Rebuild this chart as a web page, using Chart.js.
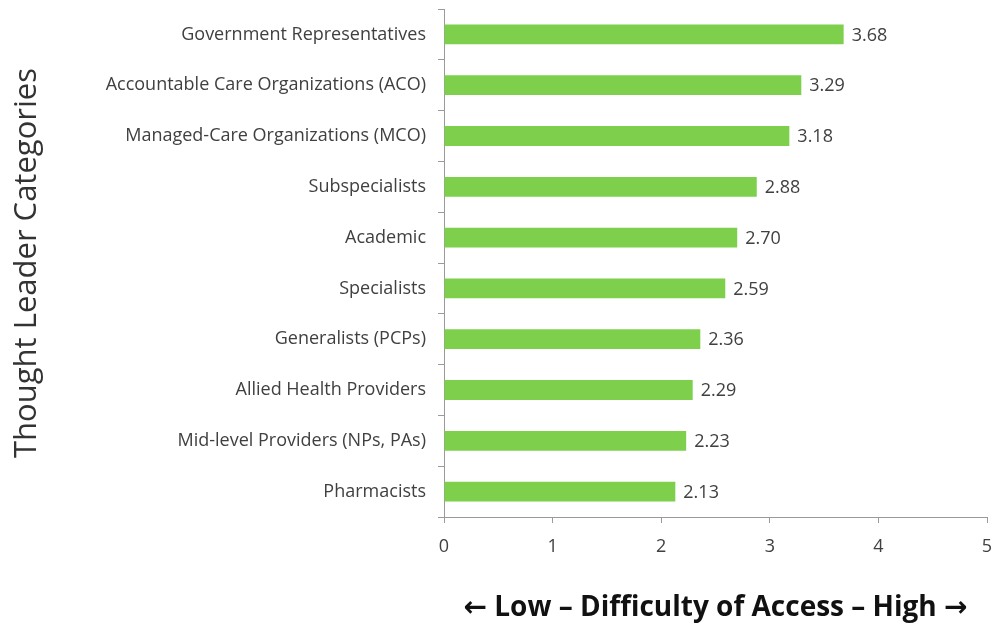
<!DOCTYPE html>
<html>
<head>
    <meta charset="utf-8"/>
    <title>Difficulty of Access</title>
    <script src="https://cdn.jsdelivr.net/npm/chart.js@4.4.1/dist/chart.umd.min.js"></script>
    <style>
        html, body { margin: 0; padding: 0; background: #fff; }
        #wrap { width: 993px; height: 629px; position: relative; }
    </style>
</head>
<body>
<div id="wrap">
    <canvas id="accessChart"></canvas>
</div>
<script>
    const categories = [
        'Government Representatives',
        'Accountable Care Organizations (ACO)',
        'Managed-Care Organizations (MCO)',
        'Subspecialists',
        'Academic',
        'Specialists',
        'Generalists (PCPs)',
        'Allied Health Providers',
        'Mid-level Providers (NPs, PAs)',
        'Pharmacists'
    ];
    const scores = [3.68, 3.29, 3.18, 2.88, 2.70, 2.59, 2.36, 2.29, 2.23, 2.13];
    const xTicks = [0, 1, 2, 3, 4, 5];

    const FONT = "'Open Sans', 'DejaVu Sans', sans-serif";

    // draws the value next to the end of each bar
    const valueLabels = {
        id: 'valueLabels',
        afterDatasetsDraw(chart) {
            const ctx = chart.ctx;
            const meta = chart.getDatasetMeta(0);
            ctx.save();
            ctx.font = '18px ' + FONT;
            ctx.fillStyle = '#404040';
            ctx.textAlign = 'left';
            ctx.textBaseline = 'middle';
            meta.data.forEach(function (bar, i) {
                ctx.fillText(scores[i].toFixed(2), bar.x + 8, bar.y + 1);
            });
            ctx.restore();
        }
    };

    new Chart(document.getElementById('accessChart'), {
        type: 'bar',
        data: {
            labels: categories,
            datasets: [{
                data: scores,
                backgroundColor: 'rgb(126, 208, 76)',
                borderWidth: 0,
                barPercentage: 0.39,
                categoryPercentage: 1.0
            }]
        },
        options: {
            indexAxis: 'y',
            responsive: true,
            maintainAspectRatio: false,
            animation: false,
            layout: { padding: { top: 9, right: 6, bottom: 0, left: 0 } },
            plugins: {
                legend: { display: false },
                tooltip: { enabled: false }
            },
            scales: {
                x: {
                    min: 0,
                    max: 5,
                    afterBuildTicks(scale) {
                        scale.ticks = xTicks.map(v => ({ value: v }));
                    },
                    afterFit(scale) {
                        scale.height = 112;
                        scale.paddingLeft = 0;
                        scale.paddingRight = 0;
                    },
                    grid: {
                        drawOnChartArea: false,
                        drawTicks: true,
                        tickLength: 6,
                        color: '#9a9a9a'
                    },
                    border: { color: '#9a9a9a', width: 1 },
                    ticks: {
                        color: '#404040',
                        padding: 13,
                        font: { family: FONT, size: 18 }
                    },
                    title: {
                        display: true,
                        text: '\u2190 Low \u2013 Difficulty of Access \u2013 High \u2192',
                        color: '#111',
                        font: { family: FONT, size: 28, weight: 'bold' },
                        padding: { top: 0, bottom: 4 }
                    }
                },
                y: {
                    afterFit(scale) {
                        scale.width = 444;
                        scale.paddingTop = 0;
                        scale.paddingBottom = 0;
                    },
                    grid: {
                        drawOnChartArea: false,
                        drawTicks: true,
                        tickLength: 6,
                        offset: true,
                        color: '#9a9a9a'
                    },
                    border: { color: '#9a9a9a', width: 1 },
                    ticks: {
                        color: '#404040',
                        padding: 12,
                        autoSkip: false,
                        font: { family: FONT, size: 18 }
                    },
                    title: {
                        display: true,
                        text: 'Thought Leader Categories',
                        color: '#333',
                        font: { family: FONT, size: 31 },
                        padding: { top: 9, bottom: 0 }
                    }
                }
            }
        },
        plugins: [valueLabels]
    });
</script>
</body>
</html>
